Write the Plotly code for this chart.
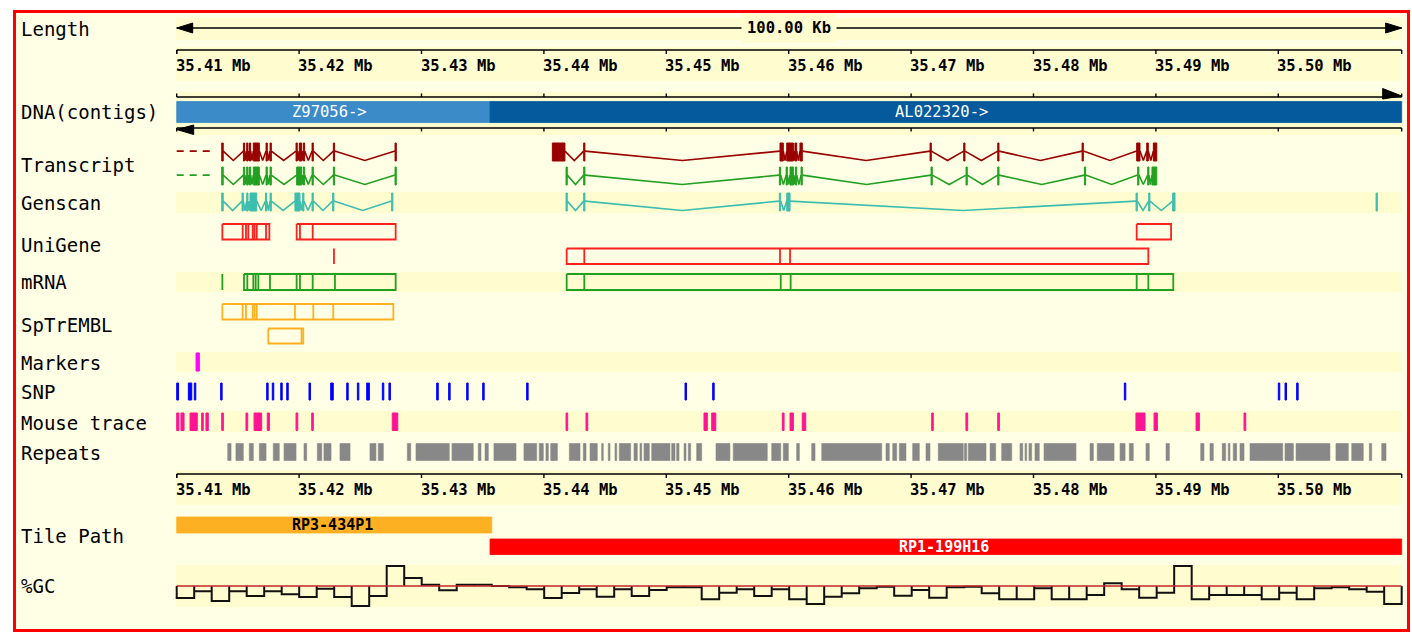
import plotly.graph_objects as go

# ---------------------------------------------------------------- data
REGION_START_MB = 35.41          # left edge of the view
VIEW_LEN_KB = 100.08             # width of the view in kb
LENGTH_TEXT = "100.00 Kb"
TICK_MB = [35.41, 35.42, 35.43, 35.44, 35.45, 35.46, 35.47, 35.48, 35.49, 35.50]
TICK_LABELS = ["35.41 Mb", "35.42 Mb", "35.43 Mb", "35.44 Mb", "35.45 Mb",
               "35.46 Mb", "35.47 Mb", "35.48 Mb", "35.49 Mb", "35.50 Mb"]

TRACK_LABELS = ["Length", "DNA(contigs)", "Transcript", "Genscan", "UniGene", "mRNA",
                "SpTrEMBL", "Markers", "SNP", "Mouse trace", "Repeats", "Tile Path", "%GC"]

# all feature positions below are kb from the left edge of the view (35.41 Mb)
CONTIG_NAMES = ["Z97056->", "AL022320->"]
CONTIG_START = [0.0, 25.60]
CONTIG_END = [25.60, 100.08]

TRANSCRIPT_UPSTREAM = [0.0, 3.13]   # gene continues off-view (dashed)
TRANSCRIPT_RED = [
    [[3.68, 3.80], [5.45, 5.55], [5.72, 5.82], [5.94, 6.04], [6.26, 6.75], [7.30, 7.40],
     [7.63, 7.73], [9.75, 9.85], [10.02, 10.21], [10.35, 10.45], [11.06, 11.16],
     [12.80, 12.90], [17.84, 17.94]],
    [[30.69, 31.72], [33.25, 33.35], [49.29, 49.56], [49.84, 50.38], [50.51, 50.65],
     [50.92, 51.11], [61.55, 61.65], [64.30, 64.40], [67.08, 67.18], [73.97, 74.07],
     [78.43, 78.70], [79.25, 79.38], [79.79, 80.07]],
]
TRANSCRIPT_GREEN = [
    [[3.68, 3.80], [5.45, 5.55], [5.72, 5.82], [5.94, 6.04], [6.26, 6.75], [7.30, 7.40],
     [7.63, 7.73], [9.80, 10.21], [10.35, 10.45], [11.06, 11.16], [12.80, 12.90],
     [17.84, 17.94]],
    [[31.81, 31.91], [33.25, 33.35], [49.24, 49.34], [49.79, 49.89], [50.11, 50.38],
     [50.55, 50.65], [51.01, 51.11], [61.63, 61.73], [64.49, 64.59], [67.08, 67.18],
     [74.16, 74.26], [78.51, 78.61], [79.33, 79.43], [79.68, 80.07]],
]
GENSCAN = [
    [[3.68, 3.80], [5.34, 5.44], [5.72, 5.82], [5.99, 6.54], [7.25, 7.35], [7.63, 7.73],
     [9.66, 10.07], [10.29, 10.39], [11.06, 11.16], [12.74, 12.84], [17.56, 17.66]],
    [[31.81, 31.91], [33.25, 33.35], [49.24, 49.34], [49.84, 50.11], [78.38, 78.48],
     [79.41, 79.51], [81.37, 81.56]],
    [[97.99, 98.09]],
]
# aligned features: block boundaries of each hit
UNIGENE_ROW1 = [[3.73, 5.39, 5.66, 5.85, 6.21, 6.36, 6.54, 7.30, 7.57],
                [9.80, 10.07, 11.11, 17.89],
                [78.43, 81.24]]
UNIGENE_ROW2 = [[12.85, 12.85],
                [31.86, 33.30, 49.29, 50.11, 79.38]]
MRNA = [[3.73, 3.73],
        [5.50, 5.77, 6.26, 6.45, 6.67, 7.62, 9.80, 10.07, 11.11, 12.93, 17.89],
        [31.86, 33.30, 49.35, 50.16, 78.43, 79.38, 81.42]]
SPTREMBL_ROW1 = [[3.73, 5.39, 5.66, 6.21, 6.36, 6.54, 9.66, 11.16, 12.79, 17.70]]
SPTREMBL_ROW2 = [[7.48, 10.20, 10.34]]

MARKERS = [[1.58, 1.85]]
SNP = [[0.0, 0.15], [0.95, 1.23], [1.44, 1.56], [3.59, 3.71], [7.35, 7.47], [7.81, 7.93],
       [8.50, 8.62], [8.99, 9.11], [10.81, 10.93], [12.58, 12.79], [13.89, 14.01],
       [14.76, 14.88], [15.52, 15.74], [16.80, 16.92], [17.34, 17.46], [21.24, 21.37],
       [22.22, 22.34], [23.69, 23.81], [25.00, 25.12], [28.59, 28.71], [41.53, 41.65],
       [43.79, 43.91], [77.42, 77.54], [90.00, 90.12], [90.55, 90.67], [91.50, 91.62]]
MOUSE_TRACE = [[0.0, 0.18], [0.35, 0.60], [1.09, 1.68], [2.04, 2.17], [2.39, 2.58],
               [3.68, 3.81], [5.66, 5.80], [6.32, 6.94], [7.40, 7.57], [9.75, 9.89],
               [11.03, 11.16], [17.61, 18.06], [31.81, 31.94], [33.44, 33.58],
               [43.08, 43.35], [43.71, 44.04], [49.48, 49.62], [50.11, 50.38],
               [51.11, 51.39], [61.68, 61.81], [64.48, 64.62], [67.08, 67.21],
               [78.37, 79.11], [79.85, 80.12], [83.28, 83.55], [87.20, 87.34]]
REPEATS = [[4.17, 4.44], [4.84, 5.44], [5.93, 6.26], [6.75, 7.30], [7.89, 8.38], [8.77, 9.75],
           [10.40, 10.62], [11.49, 11.85], [12.03, 12.61], [13.34, 14.16], [15.79, 16.28],
           [16.47, 16.88], [18.84, 19.12], [19.55, 22.27], [22.49, 24.23], [24.64, 24.86],
           [25.19, 25.46], [25.92, 27.72], [28.37, 29.41], [29.62, 29.95], [30.17, 30.36],
           [30.56, 31.10], [32.08, 32.95], [33.22, 33.44], [33.77, 34.36], [34.72, 34.85],
           [35.26, 35.40], [35.81, 35.95], [36.16, 37.09], [37.36, 37.63], [37.85, 37.99],
           [38.18, 38.61], [38.81, 40.30], [40.44, 40.71], [40.85, 41.04], [41.45, 41.61],
           [41.80, 41.99], [42.48, 42.89], [44.06, 45.20], [45.47, 48.25], [48.61, 49.35],
           [49.56, 49.97], [50.65, 50.87], [51.88, 52.15], [52.70, 57.60], [57.95, 58.22],
           [58.50, 58.82], [59.04, 59.58], [60.13, 60.67], [61.22, 61.54], [62.22, 64.26],
           [64.36, 64.54], [64.67, 66.12], [66.45, 66.91], [67.40, 68.22], [68.90, 69.12],
           [69.31, 69.44], [69.63, 69.85], [70.12, 70.47], [70.86, 73.47], [74.62, 74.89],
           [75.21, 76.58], [77.07, 77.48], [77.83, 78.15], [79.19, 79.46], [80.83, 81.10],
           [83.66, 83.93], [84.42, 84.69], [85.42, 85.70], [85.91, 86.05], [86.32, 86.60],
           [86.87, 87.20], [87.69, 90.36], [90.55, 91.23], [91.45, 94.22], [94.71, 95.72],
           [96.00, 96.94], [97.44, 97.63], [98.45, 98.80]]

TILE_NAMES = ["RP3-434P1", "RP1-199H16"]
TILE_START = [0.0, 25.60]
TILE_END = [25.74, 100.08]

GC_MEAN = 40.0
GC_PCT = [28.0, 34.7, 25.0, 34.7, 30.0, 34.7, 31.7, 29.0, 37.3, 29.0,
          20.0, 30.0, 60.0, 48.0, 41.3, 35.7, 41.3, 41.3, 40.0, 38.7,
          36.7, 28.0, 33.0, 36.7, 29.3, 36.7, 30.0, 36.0, 38.7, 38.7,
          26.7, 33.3, 36.7, 30.0, 36.7, 26.7, 22.0, 29.3, 32.7, 37.7,
          39.3, 30.3, 36.0, 28.3, 38.7, 39.3, 32.7, 26.7, 26.7, 37.7,
          26.7, 26.7, 31.0, 42.7, 36.7, 28.3, 33.3, 60.0, 26.7, 31.0,
          31.0, 31.0, 26.7, 33.3, 26.7, 37.7, 38.7, 36.7, 34.3, 22.0]

# ---------------------------------------------------------------- layout/style
W, H = 1412, 636
PX_PER_KB = 12.24
X0_PX = 176.7                      # pixel of the view's left edge
BG = "#FFFFE6"
STRIPE = "#FFFCCF"
MONO = "DejaVu Sans Mono"

C_TR_RED = "#990000"
C_TR_GREEN = "#22A022"
C_GENSCAN = "#3CBDB0"
C_UNIGENE = "#FF2020"
C_MRNA = "#22A022"
C_SPTR = "#FFB020"
C_MARKER = "#FF00FF"
C_SNP = "#0000FF"
C_MOUSE = "#FF1493"
C_REPEAT = "#888888"
C_CONTIG = ["#3A8BC8", "#045A9C"]
C_TILE = ["#FDB022", "#FF0000"]

dom_l, dom_r = 168.0, 1408.0
x_range = [(dom_l - X0_PX) / PX_PER_KB, (dom_r - X0_PX) / PX_PER_KB]
end_kb = VIEW_LEN_KB


def px(n):  # pixel length -> kb (for arrow-head sizes)
    return n / PX_PER_KB


fig = go.Figure()
shapes = []
annos = []

# background, stripes, border
shapes.append(dict(type="rect", xref="paper", yref="y", x0=15 / W, x1=1408 / W, y0=12, y1=630,
                   fillcolor=BG, line=dict(width=0), layer="below"))
for y0, y1 in [(18, 40), (47, 81), (92, 135), (192, 213), (272, 292), (352, 372),
               (411, 432), (470, 505), (565, 607)]:
    shapes.append(dict(type="rect", xref="x", yref="y", x0=-0.06, x1=end_kb, y0=y0, y1=y1,
                       fillcolor=STRIPE, line=dict(width=0), layer="below"))
shapes.append(dict(type="rect", xref="paper", yref="y", x0=14.5 / W, x1=1408.5 / W, y0=11.5,
                   y1=630.5, fillcolor="rgba(0,0,0,0)", line=dict(color="#FF0000", width=3),
                   layer="above"))


def line_trace(xs, ys, color, width=1.5, dash=None):
    fig.add_trace(go.Scatter(x=xs, y=ys, mode="lines",
                             line=dict(color=color, width=width, dash=dash),
                             hoverinfo="skip", showlegend=False))


def fill_trace(xs, ys, color, width=1.0):
    fig.add_trace(go.Scatter(x=xs, y=ys, mode="lines", fill="toself", fillcolor=color,
                             line=dict(color=color, width=width),
                             hoverinfo="skip", showlegend=False))


def rects(segs, y0, y1, color, width=1.0):
    xs, ys = [], []
    for s, e in segs:
        xs += [s, e, e, s, s, None]
        ys += [y0, y0, y1, y1, y0, None]
    fill_trace(xs, ys, color, width)


def boxes(features, y0, y1, color, width=1.8):
    xs, ys = [], []
    for b in features:
        xs += [b[0], b[-1], b[-1], b[0], b[0], None]
        ys += [y0, y0, y1, y1, y0, None]
        for v in b[1:-1]:
            xs += [v, v, None]
            ys += [y0, y1, None]
    line_trace(xs, ys, color, width)


def genes(models, y0, y1, color):
    ymid = y0 + (y1 - y0) * 0.45
    xs, ys = [], []
    for exons in models:
        for (s0, e0), (s1, e1) in zip(exons[:-1], exons[1:]):
            xs += [e0, (e0 + s1) / 2, s1, None]
            ys += [ymid, y1 - 0.5, ymid, None]
    line_trace(xs, ys, color, 1.6)
    rects([e for m in models for e in m], y0, y1, color, 1.0)
    return ymid


def ruler(y, tick_dir, label_y=None):
    line_trace([0, end_kb], [y, y], "#000000", 1.6)
    xs, ys = [], []
    for m in TICK_MB:
        k = (m - REGION_START_MB) * 1000
        xs += [k, k, None]
        ys += [y, y + tick_dir, None]
    for k in (0, end_kb):
        xs += [k, k, None]
        ys += [y, y + tick_dir, None]
    line_trace(xs, ys, "#000000", 1.4)
    if label_y is not None:
        for m, t in zip(TICK_MB, TICK_LABELS):
            annos.append(dict(x=(m - REGION_START_MB) * 1000, y=label_y, xref="x", yref="y",
                              text="<b>" + t + "</b>", showarrow=False, xanchor="left",
                              yanchor="middle", xshift=-3,
                              font=dict(family=MONO, size=15.5, color="#000000")))


# Length arrow
line_trace([0, end_kb], [28, 28], "#000000", 1.6)
fill_trace([0, px(16), px(16), 0], [28, 23, 33, 28], "#000000")
fill_trace([end_kb, end_kb - px(16), end_kb - px(16), end_kb], [28, 23, 33, 28], "#000000")
annos.append(dict(x=end_kb / 2, y=28, xref="x", yref="y", text="<b>" + LENGTH_TEXT + "</b>",
                  showarrow=False, bgcolor=STRIPE, borderpad=5,
                  font=dict(family=MONO, size=15.5, color="#000000")))

# rulers
ruler(50, 4, 66)
ruler(474, 4, 490)

# contigs
line_trace([0, end_kb], [97, 97], "#000000", 1.6)
xs, ys = [], []
for m in TICK_MB + [REGION_START_MB + end_kb / 1000]:
    k = (m - REGION_START_MB) * 1000
    xs += [k, k, None, k, k, None]
    ys += [93.5, 97, None, 128, 131.5, None]
line_trace(xs, ys, "#000000", 1.4)
fill_trace([end_kb - px(19), end_kb, end_kb - px(19), end_kb - px(19)], [88.5, 96, 99, 88.5],
           "#000000")
line_trace([0, end_kb], [128, 128], "#000000", 1.6)
fill_trace([0, px(17), px(17), 0], [129.5, 125, 134.5, 129.5], "#000000")
for name, s, e, c in zip(CONTIG_NAMES, CONTIG_START, CONTIG_END, C_CONTIG):
    rects([[s, e]], 101.5, 122.5, c, 0.8)
    annos.append(dict(x=(s + e) / 2, y=112, xref="x", yref="y", text=name, showarrow=False,
                      xshift=-4, font=dict(family=MONO, size=15.5, color="#FFFFFF")))

# transcripts
ym = genes(TRANSCRIPT_RED, 143, 161, C_TR_RED)
line_trace(TRANSCRIPT_UPSTREAM, [ym, ym], C_TR_RED, 1.6, dash="7px,6px")
ym = genes(TRANSCRIPT_GREEN, 167, 185, C_TR_GREEN)
line_trace(TRANSCRIPT_UPSTREAM, [ym, ym], C_TR_GREEN, 1.6, dash="7px,6px")
genes(GENSCAN, 193, 211, C_GENSCAN)

# aligned features
boxes(UNIGENE_ROW1, 224, 239.5, C_UNIGENE)
boxes(UNIGENE_ROW2, 248.5, 264, C_UNIGENE)
boxes(MRNA, 274, 290, C_MRNA)
boxes(SPTREMBL_ROW1, 304, 319.5, C_SPTR)
boxes(SPTREMBL_ROW2, 328.5, 343.5, C_SPTR)

# point-like features
rects(MARKERS, 353, 371, C_MARKER)
rects(SNP, 383, 400, C_SNP)
rects(MOUSE_TRACE, 413, 430.5, C_MOUSE)
rects(REPEATS, 443.5, 460.5, C_REPEAT, 0.6)

# tile path
for (name, s, e, c, y0, y1, tc) in zip(TILE_NAMES, TILE_START, TILE_END, C_TILE,
                                        [517, 539], [533, 554.5], ["#000000", "#FFFFFF"]):
    rects([[s, e]], y0, y1, c, 0.8)
    annos.append(dict(x=(s + e) / 2, y=(y0 + y1) / 2, xref="x", yref="y",
                      text="<b>" + name + "</b>", showarrow=False, xshift=-2,
                      font=dict(family=MONO, size=15, color=tc)))

# %GC
base_y = 586
bw = VIEW_LEN_KB / len(GC_PCT)
xs, ys = [], []
for i, v in enumerate(GC_PCT):
    yv = base_y - (v - GC_MEAN) * 1.0
    xs += [i * bw, i * bw, (i + 1) * bw, (i + 1) * bw]
    ys += [base_y, yv, yv, base_y]
line_trace(xs, ys, "#111111", 2.0)
line_trace([0, end_kb], [base_y, base_y], "#C02828", 1.5)

# track labels
label_y = [29, 112, 165, 203, 245, 282, 325, 363, 392, 423, 453, 536, 586]
for t, y in zip(TRACK_LABELS, label_y):
    annos.append(dict(x=21 / W, y=y, xref="paper", yref="y", text=t, showarrow=False,
                      xanchor="left", yanchor="middle", xshift=-2,
                      font=dict(family=MONO, size=19, color="#000000")))

fig.update_layout(
    width=W, height=H, margin=dict(l=0, r=0, t=0, b=0),
    paper_bgcolor="#FFFFFF", plot_bgcolor="rgba(0,0,0,0)",
    xaxis=dict(domain=[dom_l / W, dom_r / W], range=x_range, visible=False, fixedrange=True),
    yaxis=dict(domain=[0, 1], range=[H, 0], visible=False, fixedrange=True),
    shapes=shapes, annotations=annos, showlegend=False,
)
fig.write_html("out.html", config={"displayModeBar": False},
               post_script="document.body.style.margin='0px';document.body.style.overflow='hidden';")
